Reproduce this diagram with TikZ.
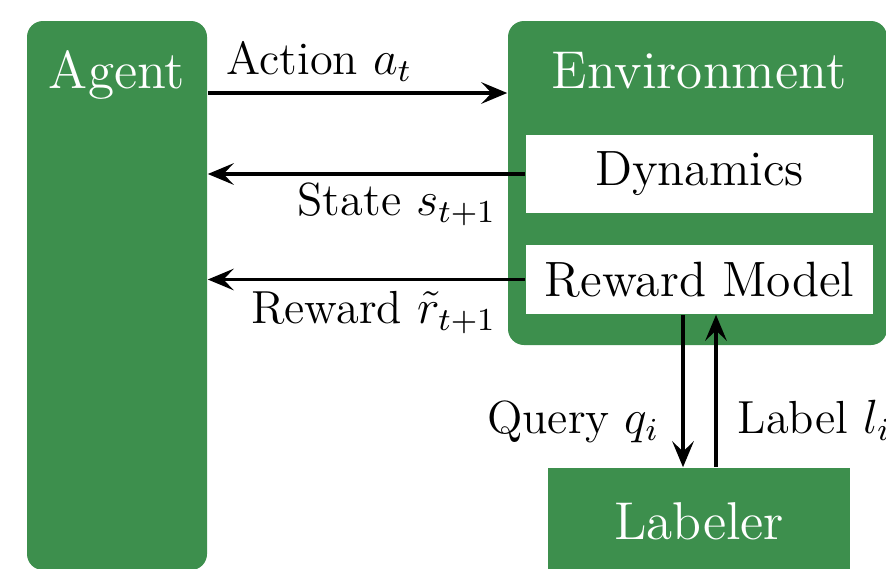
\documentclass[tikz,border=0pt]{standalone}
\usetikzlibrary{arrows.meta}
\definecolor{boxgreen}{RGB}{61,143,77}
\begin{document}
\begin{tikzpicture}[x=0.25pt,y=-0.25pt,
  block/.style={fill=boxgreen, draw=none, rounded corners=4pt, inner sep=0pt},
  plainblock/.style={fill=boxgreen, draw=none, inner sep=0pt},
  inbox/.style={fill=white, draw=none, inner sep=0pt, minimum width=86.75pt,
    font=\fontsize{12.4}{14}\selectfont},
  title/.style={text=white, inner sep=0pt, anchor=base,
    font=\fontsize{13.3}{15}\selectfont},
  lbl/.style={inner sep=0pt, font=\fontsize{11.6}{14}\selectfont},
  arr/.style={-{Stealth[length=6.5pt,width=5.4pt,inset=2.6pt]}, line width=0.85pt}]
\useasboundingbox (0,0) rectangle (886,568);
\clip (0,0) rectangle (886,568);

% main blocks
\node[block, minimum width=45pt, minimum height=137.25pt] (agent) at (117,295.5) {};
\node[block, minimum width=94.75pt, minimum height=81pt] (env) at (697.5,183) {};
\node[plainblock, minimum width=75.5pt, minimum height=33pt] (lab) at (699,534) {};

% titles
\node[title] (agentT) at (117,88) {Agent};
\node[title] (envT) at (699,88) {Environment};
\node[title] (labT) at (699,539) {Labeler};

% parts of the environment
\node[inbox, minimum height=19.5pt] (dyn) at (699.5,174) {Dynamics};
\node[inbox, minimum height=17.25pt] (rm) at (699.5,279.5) {Reward Model};

% helper coordinates for the connectors
\coordinate (actY) at (0,93);
\coordinate (qX) at (683,0);
\coordinate (lX) at (716,0);

% connectors
\draw[arr] (agent.east |- actY) -- (env.west |- actY);
\draw[arr] (dyn.west) -- (dyn.west -| agent.east);
\draw[arr] (rm.west) -- (rm.west -| agent.east);
\draw[arr] (rm.south -| qX) -- (lab.north -| qX);
\draw[arr] (lab.north -| lX) -- (rm.south -| lX);

% connector labels
\node[lbl, anchor=base west] (actL) at (226,74) {Action $a_t$};
\node[lbl, anchor=base east] (stL) at (497,215) {State $s_{t+1}$};
\node[lbl, anchor=base east] (rwL) at (497,323) {Reward $\tilde{r}_{t+1}$};
\node[lbl, anchor=base east] (qL) at (660,433) {Query $q_i$};
\node[lbl, anchor=base west] (lL) at (737,433) {Label $l_i$};
\end{tikzpicture}
\end{document}
